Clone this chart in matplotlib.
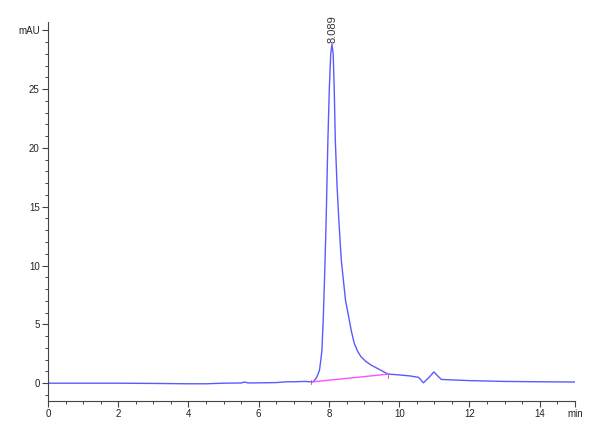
import matplotlib.pyplot as plt
from matplotlib.ticker import MultipleLocator

# chromatogram trace (time in min, signal in mAU)
times = [0, 1, 2, 3, 4, 4.5, 5, 5.5, 5.6, 5.7, 6, 6.5, 6.8, 7.0, 7.3, 7.49,
         7.55, 7.63, 7.68, 7.73, 7.77, 7.80, 7.84, 7.87, 7.89, 7.92, 7.97,
         8.01, 8.05, 8.085, 8.12, 8.15, 8.18, 8.23, 8.28, 8.35, 8.47, 8.56,
         8.64, 8.72, 8.81, 8.91, 9.05, 9.2, 9.35, 9.48, 9.6, 9.69, 9.8, 10.0,
         10.3, 10.55, 10.69, 10.85, 10.99, 11.1, 11.2, 11.5, 12, 13, 14, 15]
signal = [0, 0, 0, -0.02, -0.05, -0.05, 0, 0.02, 0.1, 0.02, 0.03, 0.05, 0.12,
          0.12, 0.15, 0.12, 0.12, 0.4, 0.7, 1.1, 2.0, 2.8, 5.66, 8.5, 10.5,
          13.9, 20.7, 25.0, 28.0, 28.8, 28.0, 25.0, 20.7, 16.8, 13.9, 10.5,
          7.08, 5.66, 4.4, 3.39, 2.75, 2.25, 1.85, 1.54, 1.3, 1.1, 0.9, 0.77,
          0.75, 0.7, 0.62, 0.5, 0.03, 0.5, 0.96, 0.6, 0.32, 0.28, 0.22, 0.15,
          0.12, 0.1]

# integration baseline under the main peak
base_t = [7.49, 9.69]
base_v = [0.1, 0.77]

peak_rt = 8.089
peak_height = 28.8

x_ticks = [0, 2, 4, 6, 8, 10, 12, 14, 15]
x_labels = ['0', '2', '4', '6', '8', '10', '12', '14', 'min']
y_ticks = [0, 5, 10, 15, 20, 25, 30]
y_labels = ['0', '5', '10', '15', '20', '25', 'mAU']

plt.rcParams['font.family'] = ['Liberation Sans', 'DejaVu Sans']

fig = plt.figure(figsize=(6, 4.4), dpi=100)
ax = fig.add_axes([0.08, 0.089, 0.878, 0.861])

ax.plot(times, signal, color='#5a5aff', linewidth=1.0)
ax.plot(base_t, base_v, color='#ff50ff', linewidth=1.0)
ax.plot([base_t[0]] * 2, [base_v[0] - 0.15, base_v[0] + 0.15], color='#777777', linewidth=0.6)
ax.plot([base_t[1]] * 2, [base_v[1] - 0.35, base_v[1] - 0.05], color='#777777', linewidth=0.6)

ax.text(peak_rt, peak_height + 0.1, '8.089', rotation=90, ha='center', va='bottom',
        fontsize=8, color='#333333', clip_on=False)

ax.set_xlim(0, 15)
ax.set_ylim(-1.5, 30.7)
ax.set_xticks(x_ticks)
ax.set_xticklabels(x_labels)
ax.set_yticks(y_ticks)
ax.set_yticklabels(y_labels)
ax.xaxis.set_minor_locator(MultipleLocator(0.5))
ax.yaxis.set_minor_locator(MultipleLocator(1))

for side in ['top', 'right']:
    ax.spines[side].set_visible(False)
for side in ['left', 'bottom']:
    ax.spines[side].set_color('#444444')
    ax.spines[side].set_linewidth(0.8)

ax.tick_params(which='major', length=4, width=0.8, color='#444444',
               labelsize=7, labelcolor='#222222', pad=2)
ax.tick_params(which='minor', length=2.5, width=0.7, color='#444444')

fig.savefig('out.png', dpi=100)
